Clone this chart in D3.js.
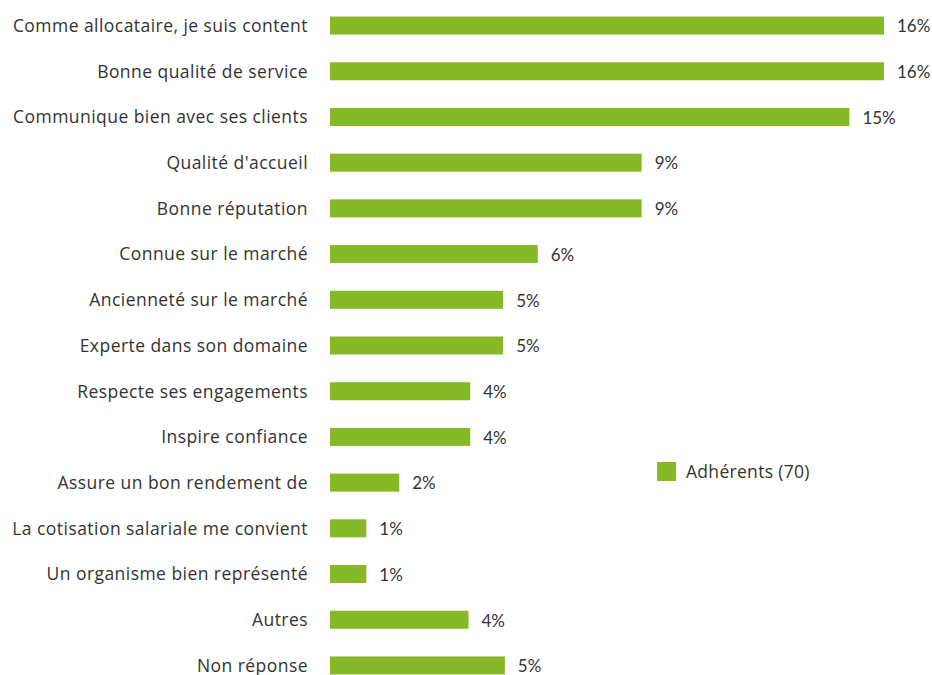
<!DOCTYPE html>
<html><head><meta charset="utf-8">
<script src="https://cdn.jsdelivr.net/npm/d3@7"></script>
<style>body{margin:0;background:#fff;} svg{display:block;}</style>
</head><body>
<svg id="c" width="932" height="675"></svg>
<script>
const categories = ["Comme allocataire, je suis content","Bonne qualité de service","Communique bien avec ses clients","Qualité d'accueil","Bonne réputation","Connue sur le marché","Ancienneté sur le marché","Experte dans son domaine","Respecte ses engagements","Inspire confiance","Assure un bon rendement de","La cotisation salariale me convient","Un organisme bien représenté","Autres","Non réponse"];
const values = [16.0,16.0,15.0,9.0,9.0,6.0,5.0,5.0,4.05,4.05,2.0,1.05,1.05,4.0,5.05];
const valueLabels = ["16%","16%","15%","9%","9%","6%","5%","5%","4%","4%","2%","1%","1%","4%","5%"];
const seriesName = "Adhérents (70)";
const color = "#86b827";

const svg = d3.select("#c");
const x = d3.scaleLinear().domain([0,16]).range([330,884]);
const y = d3.scaleBand().domain(categories).range([2.7,688.3]).paddingInner(0.606).paddingOuter(0.303);
const labelFont = "'Open Sans', sans-serif";

svg.selectAll("rect.bar").data(categories).join("rect").attr("class","bar")
  .attr("x",x(0)).attr("y",d=>y(d)).attr("height",y.bandwidth())
  .attr("width",(d,i)=>x(values[i])-x(0)).attr("fill",color);

svg.selectAll("text.cat").data(categories).join("text").attr("class","cat")
  .attr("x",308).attr("y",d=>y(d)+y.bandwidth()/2).attr("dy","0.36em")
  .attr("text-anchor","end").attr("font-family",labelFont).attr("font-size",17.5)
  .attr("letter-spacing","0.45px")
  .attr("fill","#333").text(d=>d);

svg.selectAll("text.val").data(categories).join("text").attr("class","val")
  .attr("x",(d,i)=>x(values[i])+13).attr("y",d=>y(d)+y.bandwidth()/2).attr("dy","0.4em")
  .attr("font-family","Lato, sans-serif").attr("font-size",17)
  .attr("fill","#333").text((d,i)=>valueLabels[i]);

const lg = svg.append("g");
lg.append("rect").attr("x",657).attr("y",462).attr("width",19).attr("height",19).attr("fill",color);
lg.append("text").attr("x",686).attr("y",472).attr("dy","0.36em").attr("font-family",labelFont)
  .attr("font-size",17.5).attr("letter-spacing","0.3px").attr("fill","#333").text(seriesName);
</script>
</body></html>
